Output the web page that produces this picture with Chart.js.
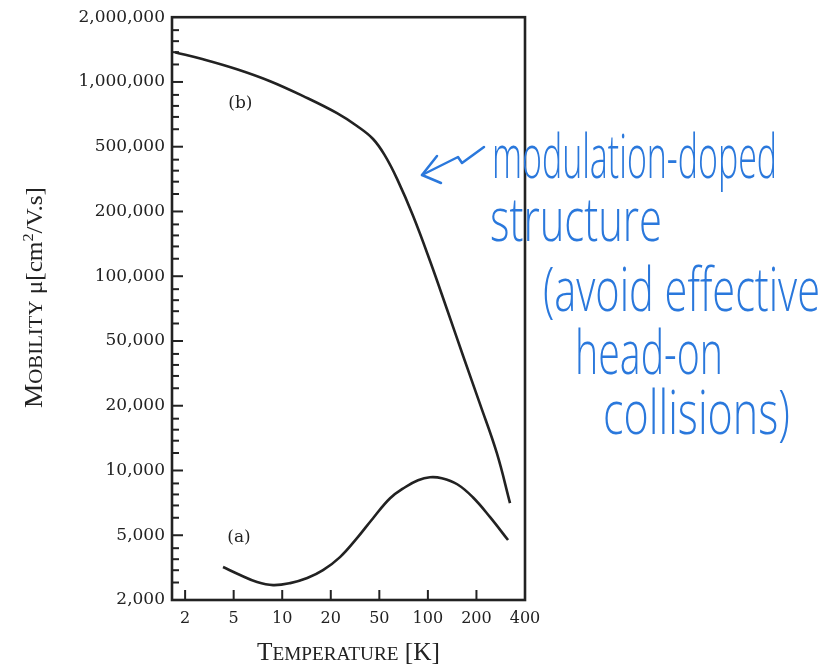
<!DOCTYPE html>
<html>
<head>
<meta charset="utf-8">
<script src="https://cdn.jsdelivr.net/npm/chart.js@4"></script>
<style>
html,body{margin:0;padding:0;background:#fff;}
#c{display:block;}
</style>
</head>
<body>
<canvas id="c" width="824" height="671"></canvas>
<script>
// ---- tick label values (axes use equally spaced 1-2-5 style labels) ----
const xTickValues = [2, 5, 10, 20, 50, 100, 200, 400];
const yTickValues = [2000, 5000, 10000, 20000, 50000, 100000, 200000, 500000, 1000000, 2000000];

// ---- curve (b): modulation-doped structure ----
const tempB = [1.65, 2.81, 5.24, 8.41, 13.5, 22.5, 32.8, 44.4, 54.3, 64.4, 80.9, 103, 131, 165, 210, 268, 323];
const mobilityB = [1375000, 1275000, 1146000, 1008000, 859000, 716000, 624000, 543000, 439000, 317000, 191000, 118000, 70600, 40700, 20600, 12000, 7050];

// ---- curve (a) ----
const tempA = [4.09, 5.48, 6.98, 8.78, 11.2, 14.3, 17.9, 23.8, 32.8, 44.4, 58.3, 72.2, 86.9, 103, 122, 152, 190, 243, 314];
const mobilityA = [3190, 2850, 2580, 2470, 2540, 2730, 3050, 3670, 4800, 6000, 7430, 8360, 9010, 9300, 9200, 8630, 7510, 6070, 4670];

// ---- curve labels (data coordinates) ----
const curveLabels = [
  {text: '(b)', t: 5.5, m: 796000},
  {text: '(a)', t: 5.4, m: 4850}
];

// ---- handwritten note ----
const noteLines = ['modulation-doped', 'structure', '(avoid effective', 'head-on', 'collisions)'];

// piecewise-log position between equally spaced tick labels
function toIndex(v, ticks) {
  const n = ticks.length;
  for (let i = 0; i < n - 1; i++) {
    if (v <= ticks[i + 1] || i === n - 2) {
      return i + Math.log(v / ticks[i]) / Math.log(ticks[i + 1] / ticks[i]);
    }
  }
}
function series(ts, ms) {
  return ts.map((t, i) => ({x: toIndex(t, xTickValues), y: toIndex(ms[i], yTickValues)}));
}

const INK = '#222';
const BLUE = '#2a78dc';
const minorFrac = [0.27, 0.46, 0.63, 0.8];

function drawParts(ctx, parts, family, target) {
  let total = 0;
  parts.forEach(p => { ctx.font = p.s + 'px ' + family; p.w = ctx.measureText(p.t).width; total += p.w; });
  const k = target / total;
  ctx.save();
  ctx.scale(k, 1);
  let x = -total / 2;
  parts.forEach(p => {
    ctx.font = p.s + 'px ' + family;
    ctx.fillText(p.t, x, -(p.up || 0));
    x += p.w;
  });
  ctx.restore();
}

const framePlugin = {
  id: 'framePlugin',
  afterDatasetsDraw(chart) {
    const {ctx, chartArea: a, scales: {x, y}} = chart;
    ctx.save();
    ctx.strokeStyle = INK;
    ctx.lineCap = 'butt';
    ctx.lineWidth = 2.6;
    ctx.strokeRect(a.left, a.top, a.right - a.left, a.bottom - a.top);
    ctx.lineWidth = 2;
    x.ticks.forEach(t => {
      const px = x.getPixelForValue(t.value);
      if (px > a.left + 3 && px < a.right - 3) {
        ctx.beginPath(); ctx.moveTo(px, a.bottom); ctx.lineTo(px, a.bottom - 10); ctx.stroke();
      }
    });
    y.ticks.forEach(t => {
      const py = y.getPixelForValue(t.value);
      if (py > a.top + 2 && py < a.bottom - 2) {
        const len = t.isMajor ? 11 : 7;
        ctx.beginPath(); ctx.moveTo(a.left, py); ctx.lineTo(a.left + len, py); ctx.stroke();
      }
    });
    ctx.fillStyle = INK;
    ctx.font = '17px "DejaVu Serif"';
    ctx.textAlign = 'center';
    ctx.textBaseline = 'middle';
    curveLabels.forEach(l => {
      ctx.fillText(l.text, x.getPixelForValue(toIndex(l.t, xTickValues)), y.getPixelForValue(toIndex(l.m, yTickValues)));
    });
    ctx.restore();
  },
  afterDraw(chart) {
    const {ctx} = chart;
    ctx.save();
    ctx.fillStyle = INK;
    ctx.textAlign = 'left';
    ctx.textBaseline = 'alphabetic';
    ctx.save();
    ctx.translate(348.5, 660);
    drawParts(ctx, [{t: 'T', s: 25}, {t: 'EMPERATURE', s: 19}, {t: ' [K]', s: 25}], '"Liberation Serif"', 183);
    ctx.restore();
    ctx.save();
    ctx.translate(42, 297.5);
    ctx.rotate(-Math.PI / 2);
    drawParts(ctx, [{t: 'M', s: 25}, {t: 'OBILITY', s: 19}, {t: ' μ[cm', s: 23}, {t: '2', s: 15, up: 9}, {t: '/V.s]', s: 23}], '"Liberation Serif"', 221);
    ctx.restore();

    // handwritten note
    ctx.fillStyle = BLUE;
    ctx.strokeStyle = BLUE;
    const layout = [
      {x: 492, y: 178, w: 285},
      {x: 490, y: 241, w: 172},
      {x: 543, y: 311, w: 277},
      {x: 575, y: 374, w: 148},
      {x: 603, y: 434, w: 187}
    ];
    noteLines.forEach((txt, i) => {
      const L = layout[i];
      ctx.font = '300 60px "Open Sans"';
      const w = ctx.measureText(txt).width;
      ctx.save();
      ctx.translate(L.x, L.y);
      ctx.scale(L.w / w, 1);
      ctx.fillText(txt, 0, 0);
      ctx.restore();
    });
    ctx.lineWidth = 2.5;
    ctx.lineCap = 'round';
    ctx.lineJoin = 'round';
    ctx.beginPath();
    ctx.moveTo(484, 147);
    ctx.lineTo(462, 163);
    ctx.lineTo(458, 157);
    ctx.lineTo(422, 175);
    ctx.stroke();
    ctx.beginPath();
    ctx.moveTo(437, 156);
    ctx.lineTo(422, 175);
    ctx.lineTo(441, 183);
    ctx.stroke();
    ctx.restore();
  }
};

new Chart(document.getElementById('c'), {
  type: 'line',
  data: {
    datasets: [
      {label: '(b)', data: series(tempB, mobilityB)},
      {label: '(a)', data: series(tempA, mobilityA)}
    ]
  },
  options: {
    responsive: false,
    devicePixelRatio: 1,
    animation: false,
    layout: {padding: {left: 0, top: 16, right: 299, bottom: 0}},
    elements: {
      line: {borderColor: INK, borderWidth: 2.6, tension: 0.4, fill: false},
      point: {radius: 0}
    },
    plugins: {legend: {display: false}, tooltip: {enabled: false}},
    scales: {
      x: {
        type: 'linear',
        min: -0.27,
        max: xTickValues.length - 1,
        grid: {display: false, drawTicks: false},
        border: {display: false},
        afterBuildTicks: s => { s.ticks = xTickValues.map((v, i) => ({value: i})); },
        afterFit: s => { s.height = 71; },
        ticks: {
          autoSkip: false, maxRotation: 0, padding: 9, color: INK,
          font: {family: '"DejaVu Serif"', size: 16},
          callback: v => String(xTickValues[Math.round(v)])
        }
      },
      y: {
        type: 'linear',
        min: 0,
        max: yTickValues.length - 1,
        grid: {display: false, drawTicks: false},
        border: {display: false},
        afterBuildTicks: s => {
          const t = [];
          yTickValues.forEach((v, i) => {
            t.push({value: i, isMajor: true});
            if (i < yTickValues.length - 1) minorFrac.forEach(f => t.push({value: i + f, isMajor: false}));
          });
          s.ticks = t;
        },
        afterFit: s => { s.width = 172; },
        ticks: {
          autoSkip: false, padding: 7, color: INK,
          font: {family: '"DejaVu Serif"', size: 17},
          callback: (v) => {
            const r = Math.round(v);
            return Math.abs(v - r) < 1e-6 ? yTickValues[r].toLocaleString('en-US') : '';
          }
        }
      }
    }
  },
  plugins: [framePlugin]
});
</script>
</body>
</html>
